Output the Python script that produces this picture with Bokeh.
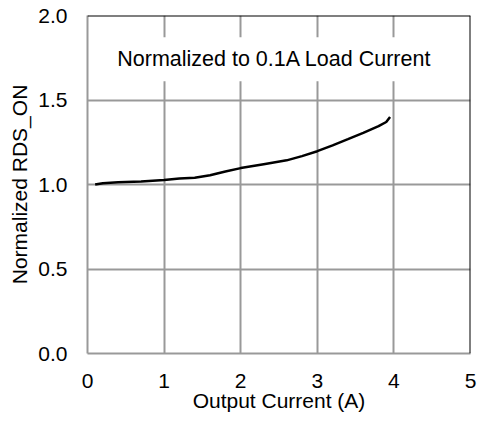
from bokeh.plotting import figure
from bokeh.models import Label, FixedTicker, Span
from bokeh.embed import file_html
from bokeh.resources import INLINE

# Data
current_a = [0.1, 0.2, 0.4, 0.7, 1.0, 1.2, 1.4, 1.6, 1.8, 2.0, 2.3, 2.6, 2.8, 3.0, 3.2, 3.4, 3.6, 3.8, 3.9, 3.95]
rds_norm = [1.0, 1.008, 1.013, 1.018, 1.027, 1.035, 1.04, 1.055, 1.077, 1.097, 1.12, 1.143, 1.168, 1.197, 1.232, 1.268, 1.305, 1.345, 1.37, 1.40]

x_ticks = [0, 1, 2, 3, 4, 5]
y_ticks = [0.0, 0.5, 1.0, 1.5, 2.0]
y_tick_labels = ["0.0", "0.5", "1.0", "1.5", "2.0"]

FONT = "Liberation Sans"
FS = "21px"
GRID = "#999999"

p = figure(width=478, height=425, x_range=(0, 5), y_range=(0, 2),
           output_backend="svg", toolbar_location=None,
           min_border_left=87, min_border_right=8, min_border_top=15, min_border_bottom=72)

p.line(current_a, rds_norm, line_color="black", line_width=2.5)

p.outline_line_color = None
for ax in (p.xaxis[0], p.yaxis[0]):
    ax.axis_line_color = GRID
    ax.axis_line_width = 2
    ax.major_tick_line_color = None
    ax.minor_tick_line_color = None
    ax.major_label_text_font = FONT
    ax.major_label_text_font_size = FS
    ax.major_label_text_color = "black"
    ax.axis_label_text_font = FONT
    ax.axis_label_text_font_size = FS
    ax.axis_label_text_font_style = "normal"
    ax.axis_label_text_color = "black"

p.xaxis.ticker = FixedTicker(ticks=x_ticks)
p.yaxis.ticker = FixedTicker(ticks=y_ticks)
p.yaxis.major_label_overrides = {t: s for t, s in zip(y_ticks, y_tick_labels)}
p.xaxis.axis_label = "Output Current (A)"
p.yaxis.axis_label = "Normalized RDS_ON"
p.xaxis.major_label_standoff = 14
p.xaxis.axis_label_standoff = -2
p.yaxis.major_label_standoff = 14
p.yaxis.axis_label_standoff = 4

p.xgrid.ticker = FixedTicker(ticks=x_ticks)
p.ygrid.ticker = FixedTicker(ticks=y_ticks)
p.grid.grid_line_color = GRID
p.grid.grid_line_width = 2

p.add_layout(Span(location=2.0, dimension="width", line_color="black", line_width=2))
p.add_layout(Span(location=5.0, dimension="height", line_color="black", line_width=2))

p.add_layout(Label(x=2.44, y=1.741, text="Normalized to 0.1A Load Current",
                   text_align="center", text_baseline="middle",
                   text_font=FONT, text_font_size="21.5px", text_color="black",
                   background_fill_color="white", padding=10))

open("out.html", "w").write(file_html(p, INLINE))
